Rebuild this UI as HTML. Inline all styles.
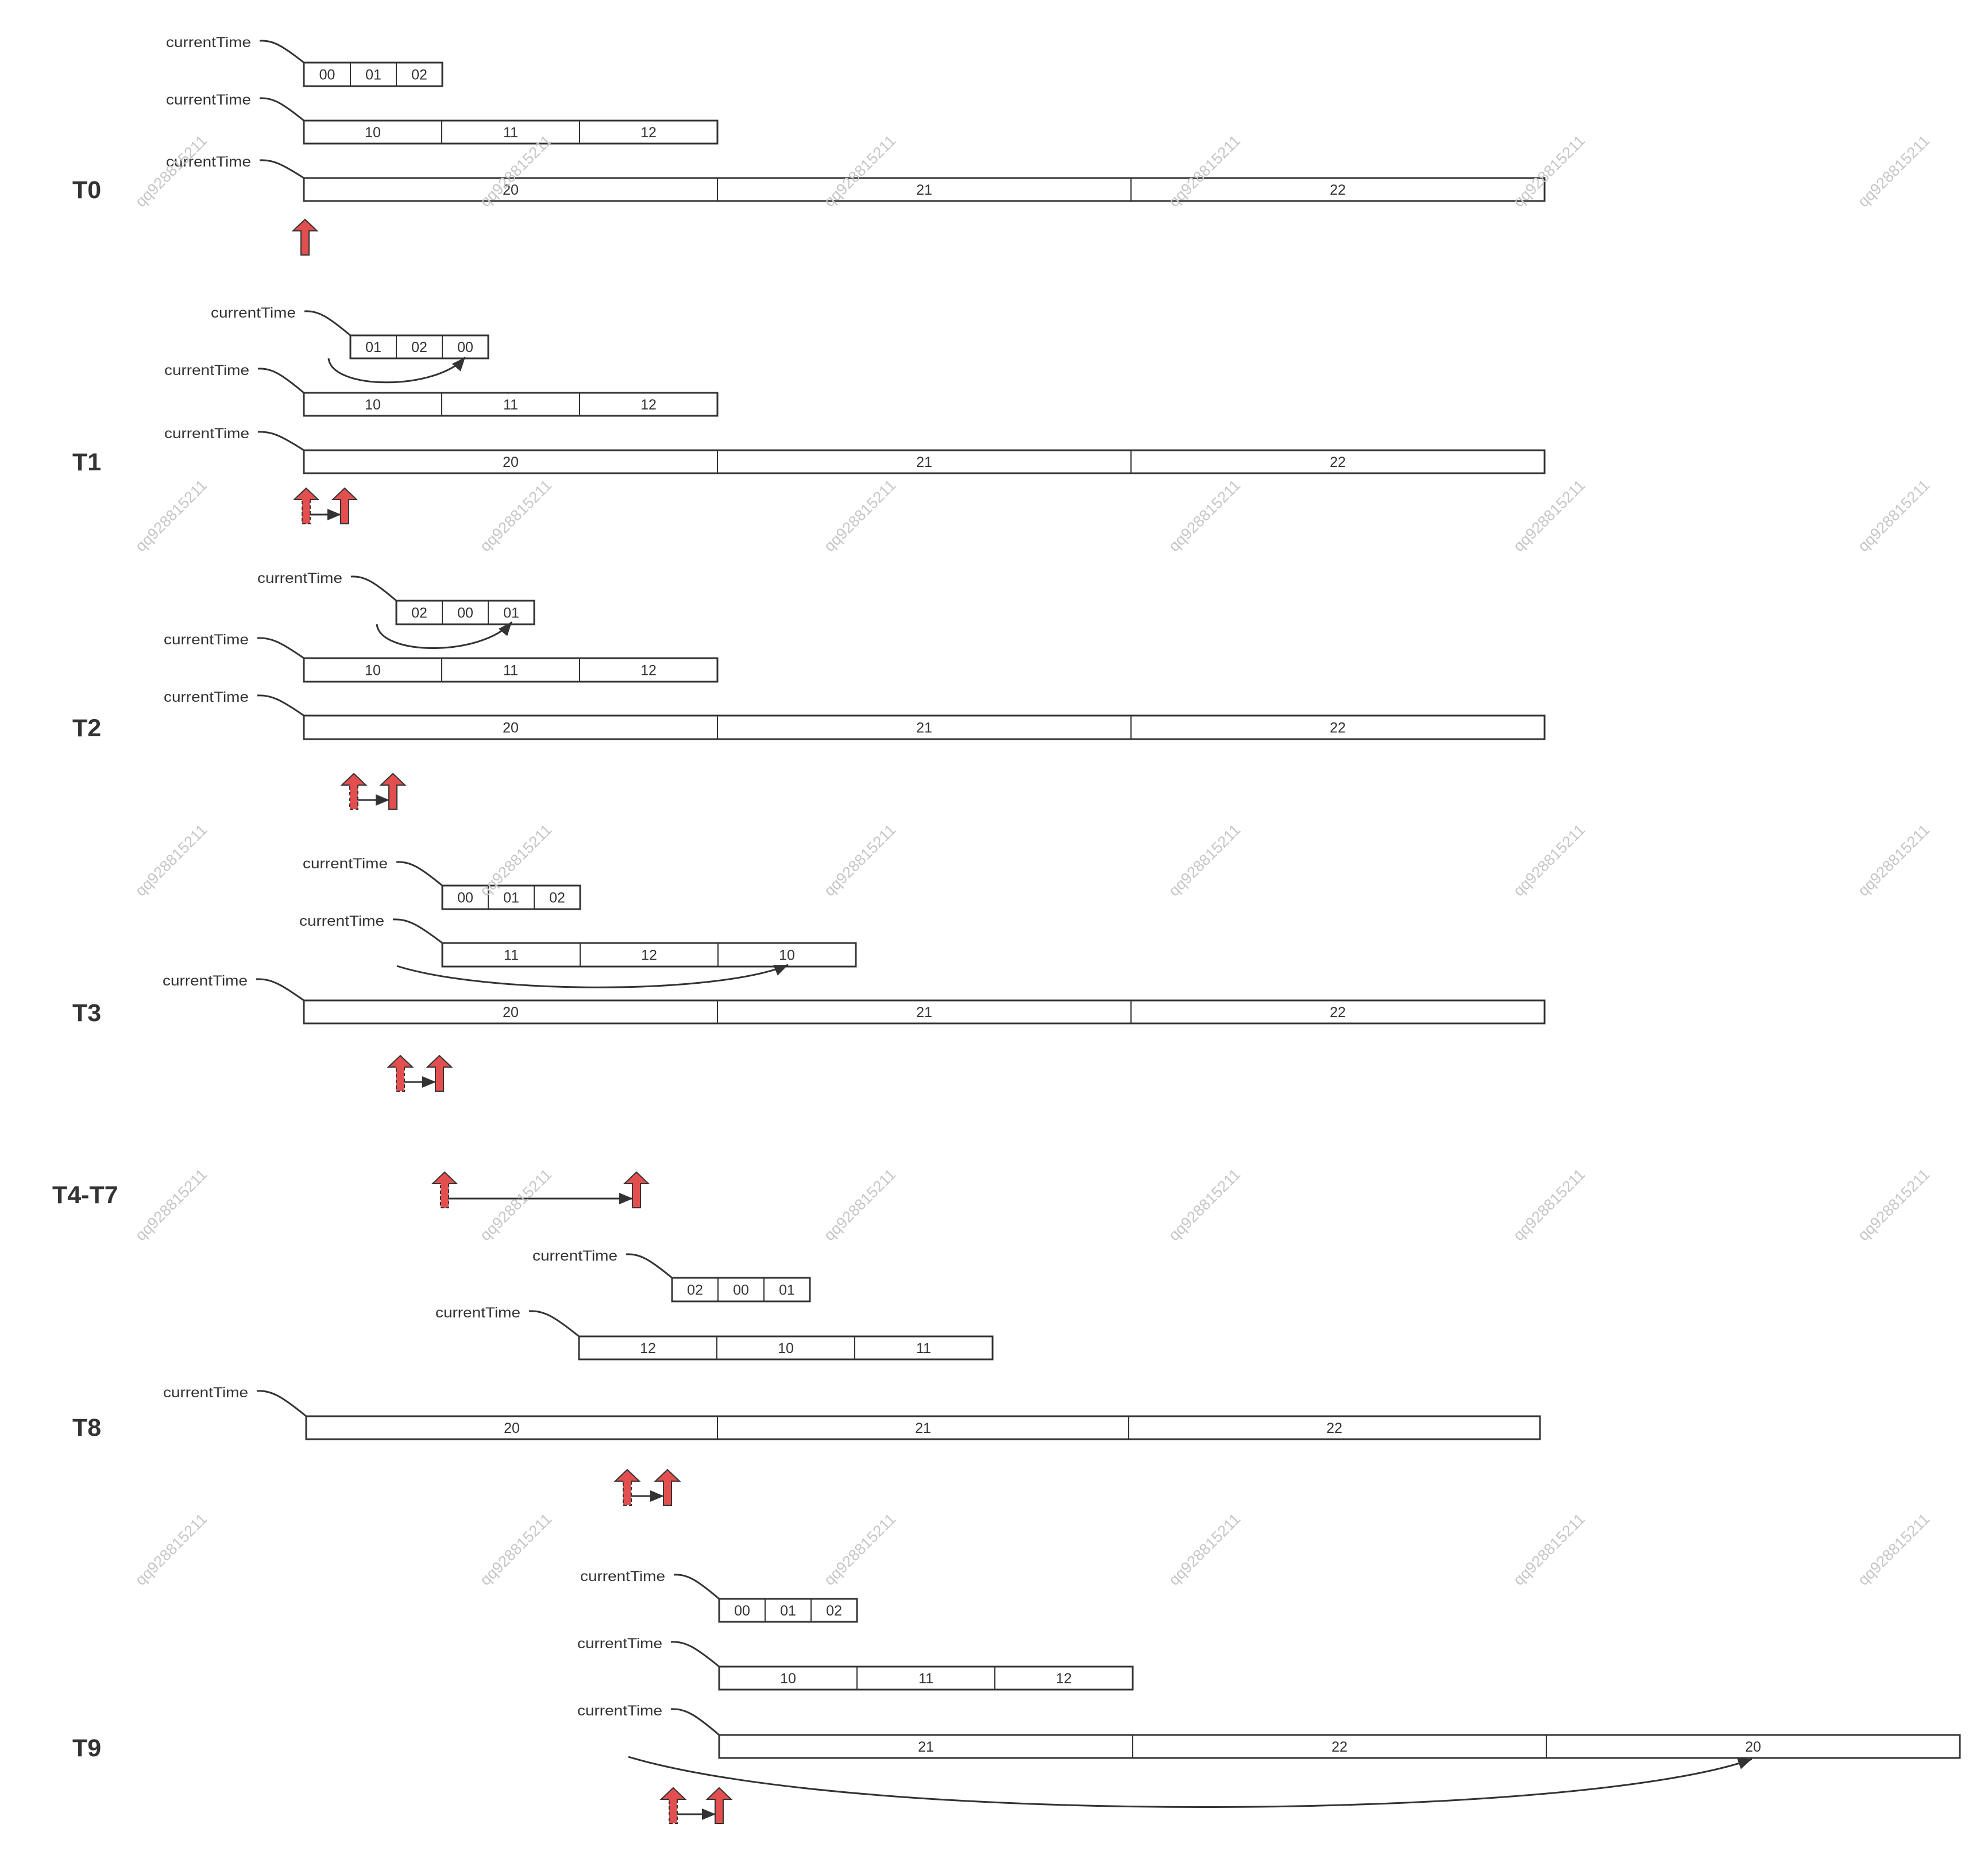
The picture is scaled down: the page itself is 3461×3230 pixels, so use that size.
<!DOCTYPE html>
<html>
<head>
<meta charset="utf-8">
<style>
html,body{margin:0;padding:0;background:#fff;}
svg{display:block;}
.lbl{font-family:"Liberation Sans",sans-serif;font-size:25px;fill:#333;}
.cell{font-family:"Liberation Sans",sans-serif;font-size:25px;fill:#333;text-anchor:middle;}
.tl{font-family:"Liberation Sans",sans-serif;font-size:43px;font-weight:bold;fill:#333;}
.bx{fill:#fff;stroke:#333;stroke-width:3;}
.dv{stroke:#333;stroke-width:2;}
.cv{fill:none;stroke:#333;stroke-width:3;}
.ra{fill:#e34f4f;stroke:#333;stroke-width:2;}
.rf{fill:#e34f4f;}
.hs{fill:none;stroke:#333;stroke-width:2;}
.ds{fill:none;stroke:#333;stroke-width:2;stroke-dasharray:6 4;}
.wm{font-family:"Liberation Sans",sans-serif;font-size:27px;fill:#c6c6c6;text-anchor:middle;}
</style>
</head>
<body>
<svg width="3461" height="3230" viewBox="0 0 3461 3230" xmlns="http://www.w3.org/2000/svg">
<defs>
<marker id="ah" markerUnits="userSpaceOnUse" markerWidth="26" markerHeight="20" refX="24" refY="10" orient="auto">
<path d="M0,0 L24,10 L0,20 z" fill="#333"/>
</marker>
</defs>
<rect width="3461" height="3230" fill="#fff"/>

<!-- ===== T0 ===== -->
<text class="tl" x="126" y="345">T0</text>
<text class="lbl" x="289" y="82" textLength="148" lengthAdjust="spacingAndGlyphs">currentTime</text>
<text class="lbl" x="289" y="182" textLength="148" lengthAdjust="spacingAndGlyphs">currentTime</text>
<text class="lbl" x="289" y="290" textLength="148" lengthAdjust="spacingAndGlyphs">currentTime</text>
<path class="cv" d="M452,71 C475,70 490.5,78.6 529,109"/>
<path class="cv" d="M452,171 C475,170 490.5,178.8 529,210"/>
<path class="cv" d="M452,279 C475,278 490.5,285.2 529,310"/>
<rect class="bx" x="529" y="109" width="241" height="41"/>
<line class="dv" x1="610" y1="109" x2="610" y2="150"/><line class="dv" x1="690" y1="109" x2="690" y2="150"/>
<text class="cell" x="569.5" y="138.5">00</text><text class="cell" x="650" y="138.5">01</text><text class="cell" x="730" y="138.5">02</text>
<rect class="bx" x="529" y="210" width="720" height="40"/>
<line class="dv" x1="769" y1="210" x2="769" y2="250"/><line class="dv" x1="1009" y1="210" x2="1009" y2="250"/>
<text class="cell" x="649" y="239">10</text><text class="cell" x="889" y="239">11</text><text class="cell" x="1129" y="239">12</text>
<rect class="bx" x="529" y="310" width="2160" height="40"/>
<line class="dv" x1="1249" y1="310" x2="1249" y2="350"/><line class="dv" x1="1969" y1="310" x2="1969" y2="350"/>
<text class="cell" x="889" y="339">20</text><text class="cell" x="1609" y="339">21</text><text class="cell" x="2329" y="339">22</text>
<path class="ra" d="M531,382 L552,402 L538,402 L538,444 L524,444 L524,402 L510,402 Z"/>

<!-- ===== T1 ===== -->
<text class="tl" x="126" y="819">T1</text>
<text class="lbl" x="367" y="553" textLength="148" lengthAdjust="spacingAndGlyphs">currentTime</text>
<text class="lbl" x="286" y="653" textLength="148" lengthAdjust="spacingAndGlyphs">currentTime</text>
<text class="lbl" x="286" y="763" textLength="148" lengthAdjust="spacingAndGlyphs">currentTime</text>
<path class="cv" d="M530,542 C554,541 570,550.4 610,584"/>
<path class="cv" d="M449,642 C473,641 489,650.4 529,684"/>
<path class="cv" d="M449,752 C473,751 489,758.4 529,784"/>
<rect class="bx" x="610" y="584" width="240" height="40"/>
<line class="dv" x1="690" y1="584" x2="690" y2="624"/><line class="dv" x1="770" y1="584" x2="770" y2="624"/>
<text class="cell" x="650" y="613">01</text><text class="cell" x="730" y="613">02</text><text class="cell" x="810" y="613">00</text>
<path class="cv" d="M572,624 C578,680 760,680 810,622" marker-end="url(#ah)"/>
<rect class="bx" x="529" y="684" width="720" height="40"/>
<line class="dv" x1="769" y1="684" x2="769" y2="724"/><line class="dv" x1="1009" y1="684" x2="1009" y2="724"/>
<text class="cell" x="649" y="713">10</text><text class="cell" x="889" y="713">11</text><text class="cell" x="1129" y="713">12</text>
<rect class="bx" x="529" y="784" width="2160" height="40"/>
<line class="dv" x1="1249" y1="784" x2="1249" y2="824"/><line class="dv" x1="1969" y1="784" x2="1969" y2="824"/>
<text class="cell" x="889" y="813">20</text><text class="cell" x="1609" y="813">21</text><text class="cell" x="2329" y="813">22</text>
<path class="rf" d="M533,850 L554,870 L540,870 L540,912 L526,912 L526,870 L512,870 Z"/>
<path class="hs" d="M526,870 L512,870 L533,850 L554,870 L540,870"/>
<path class="ds" d="M540,870 L540,912 L526,912 L526,870"/>
<path class="ra" d="M600,850 L621,870 L607,870 L607,912 L593,912 L593,870 L579,870 Z"/>
<path class="cv" d="M540,896 L594,896" marker-end="url(#ah)"/>

<!-- ===== T2 ===== -->
<text class="tl" x="126" y="1282">T2</text>
<text class="lbl" x="448" y="1015" textLength="148" lengthAdjust="spacingAndGlyphs">currentTime</text>
<text class="lbl" x="285" y="1122" textLength="148" lengthAdjust="spacingAndGlyphs">currentTime</text>
<text class="lbl" x="285" y="1222" textLength="148" lengthAdjust="spacingAndGlyphs">currentTime</text>
<path class="cv" d="M611,1004 C634.7,1003 650.5,1012.4 690,1046"/>
<path class="cv" d="M448,1111 C472.3,1110 488.5,1118 529,1146"/>
<path class="cv" d="M448,1211 C472.3,1210 488.5,1218 529,1246"/>
<rect class="bx" x="690" y="1046" width="240" height="41"/>
<line class="dv" x1="770" y1="1046" x2="770" y2="1087"/><line class="dv" x1="850" y1="1046" x2="850" y2="1087"/>
<text class="cell" x="730" y="1075.5">02</text><text class="cell" x="810" y="1075.5">00</text><text class="cell" x="890" y="1075.5">01</text>
<path class="cv" d="M656,1087 C662,1143 840,1143 891,1083" marker-end="url(#ah)"/>
<rect class="bx" x="529" y="1146" width="720" height="41"/>
<line class="dv" x1="769" y1="1146" x2="769" y2="1187"/><line class="dv" x1="1009" y1="1146" x2="1009" y2="1187"/>
<text class="cell" x="649" y="1175.5">10</text><text class="cell" x="889" y="1175.5">11</text><text class="cell" x="1129" y="1175.5">12</text>
<rect class="bx" x="529" y="1246" width="2160" height="41"/>
<line class="dv" x1="1249" y1="1246" x2="1249" y2="1287"/><line class="dv" x1="1969" y1="1246" x2="1969" y2="1287"/>
<text class="cell" x="889" y="1275.5">20</text><text class="cell" x="1609" y="1275.5">21</text><text class="cell" x="2329" y="1275.5">22</text>
<path class="rf" d="M616,1347 L637,1367 L623,1367 L623,1409 L609,1409 L609,1367 L595,1367 Z"/>
<path class="hs" d="M609,1367 L595,1367 L616,1347 L637,1367 L623,1367"/>
<path class="ds" d="M623,1367 L623,1409 L609,1409 L609,1367"/>
<path class="ra" d="M684,1347 L705,1367 L691,1367 L691,1409 L677,1409 L677,1367 L663,1367 Z"/>
<path class="cv" d="M623,1393 L678,1393" marker-end="url(#ah)"/>

<!-- ===== T3 ===== -->
<text class="tl" x="126" y="1778">T3</text>
<text class="lbl" x="527" y="1512" textLength="148" lengthAdjust="spacingAndGlyphs">currentTime</text>
<text class="lbl" x="521" y="1612" textLength="148" lengthAdjust="spacingAndGlyphs">currentTime</text>
<text class="lbl" x="283" y="1716" textLength="148" lengthAdjust="spacingAndGlyphs">currentTime</text>
<path class="cv" d="M690,1501 C714,1500 730,1509.2 770,1542"/>
<path class="cv" d="M684,1601 C709.8,1600 727,1609.2 770,1642"/>
<path class="cv" d="M446,1705 C470.9,1704 487.5,1712.4 529,1742"/>
<rect class="bx" x="770" y="1542" width="240" height="41"/>
<line class="dv" x1="850" y1="1542" x2="850" y2="1583"/><line class="dv" x1="930" y1="1542" x2="930" y2="1583"/>
<text class="cell" x="810" y="1571.5">00</text><text class="cell" x="890" y="1571.5">01</text><text class="cell" x="970" y="1571.5">02</text>
<rect class="bx" x="770" y="1642" width="720" height="41"/>
<line class="dv" x1="1010" y1="1642" x2="1010" y2="1683"/><line class="dv" x1="1250" y1="1642" x2="1250" y2="1683"/>
<text class="cell" x="890" y="1671.5">11</text><text class="cell" x="1130" y="1671.5">12</text><text class="cell" x="1370" y="1671.5">10</text>
<path class="cv" d="M691,1682 C850,1732 1250,1732 1372,1680" marker-end="url(#ah)"/>
<rect class="bx" x="529" y="1742" width="2160" height="40"/>
<line class="dv" x1="1249" y1="1742" x2="1249" y2="1782"/><line class="dv" x1="1969" y1="1742" x2="1969" y2="1782"/>
<text class="cell" x="889" y="1771">20</text><text class="cell" x="1609" y="1771">21</text><text class="cell" x="2329" y="1771">22</text>
<path class="rf" d="M697,1838 L718,1858 L704,1858 L704,1900 L690,1900 L690,1858 L676,1858 Z"/>
<path class="hs" d="M690,1858 L676,1858 L697,1838 L718,1858 L704,1858"/>
<path class="ds" d="M704,1858 L704,1900 L690,1900 L690,1858"/>
<path class="ra" d="M765,1838 L786,1858 L772,1858 L772,1900 L758,1900 L758,1858 L744,1858 Z"/>
<path class="cv" d="M704,1884 L759,1884" marker-end="url(#ah)"/>

<!-- ===== T4-T7 ===== -->
<text class="tl" x="91" y="2095">T4-T7</text>
<path class="rf" d="M774,2041 L795,2061 L781,2061 L781,2103 L767,2103 L767,2061 L753,2061 Z"/>
<path class="hs" d="M767,2061 L753,2061 L774,2041 L795,2061 L781,2061"/>
<path class="ds" d="M781,2061 L781,2103 L767,2103 L767,2061"/>
<path class="ra" d="M1108,2041 L1129,2061 L1115,2061 L1115,2103 L1101,2103 L1101,2061 L1087,2061 Z"/>
<path class="cv" d="M781,2087 L1102,2087" marker-end="url(#ah)"/>

<!-- ===== T8 ===== -->
<text class="tl" x="126" y="2500">T8</text>
<text class="lbl" x="927" y="2195" textLength="148" lengthAdjust="spacingAndGlyphs">currentTime</text>
<text class="lbl" x="758" y="2294" textLength="148" lengthAdjust="spacingAndGlyphs">currentTime</text>
<text class="lbl" x="284" y="2433" textLength="148" lengthAdjust="spacingAndGlyphs">currentTime</text>
<path class="cv" d="M1090,2184 C1114,2183 1130,2192.2 1170,2225"/>
<path class="cv" d="M921,2283 C947.1,2282 964.5,2291.8 1008,2327"/>
<path class="cv" d="M447,2422 C472.8,2421 490,2430.8 533,2466"/>
<rect class="bx" x="1170" y="2225" width="240" height="41"/>
<line class="dv" x1="1250" y1="2225" x2="1250" y2="2266"/><line class="dv" x1="1330" y1="2225" x2="1330" y2="2266"/>
<text class="cell" x="1210" y="2254.5">02</text><text class="cell" x="1290" y="2254.5">00</text><text class="cell" x="1370" y="2254.5">01</text>
<rect class="bx" x="1008" y="2327" width="720" height="40"/>
<line class="dv" x1="1248" y1="2327" x2="1248" y2="2367"/><line class="dv" x1="1488" y1="2327" x2="1488" y2="2367"/>
<text class="cell" x="1128" y="2356">12</text><text class="cell" x="1368" y="2356">10</text><text class="cell" x="1608" y="2356">11</text>
<rect class="bx" x="533" y="2466" width="2148" height="40"/>
<line class="dv" x1="1249" y1="2466" x2="1249" y2="2506"/><line class="dv" x1="1965" y1="2466" x2="1965" y2="2506"/>
<text class="cell" x="891" y="2495">20</text><text class="cell" x="1607" y="2495">21</text><text class="cell" x="2323" y="2495">22</text>
<path class="rf" d="M1092,2559 L1113,2579 L1099,2579 L1099,2621 L1085,2621 L1085,2579 L1071,2579 Z"/>
<path class="hs" d="M1085,2579 L1071,2579 L1092,2559 L1113,2579 L1099,2579"/>
<path class="ds" d="M1099,2579 L1099,2621 L1085,2621 L1085,2579"/>
<path class="ra" d="M1162,2559 L1183,2579 L1169,2579 L1169,2621 L1155,2621 L1155,2579 L1141,2579 Z"/>
<path class="cv" d="M1099,2605 L1156,2605" marker-end="url(#ah)"/>

<!-- ===== T9 ===== -->
<text class="tl" x="126" y="3058">T9</text>
<text class="lbl" x="1010" y="2753" textLength="148" lengthAdjust="spacingAndGlyphs">currentTime</text>
<text class="lbl" x="1005" y="2870" textLength="148" lengthAdjust="spacingAndGlyphs">currentTime</text>
<text class="lbl" x="1005" y="2987" textLength="148" lengthAdjust="spacingAndGlyphs">currentTime</text>
<path class="cv" d="M1173,2742 C1196.7,2741 1212.5,2750.4 1252,2784"/>
<path class="cv" d="M1168,2859 C1193.2,2858 1210,2867.6 1252,2902"/>
<path class="cv" d="M1168,2976 C1193.2,2975 1210,2985 1252,3021"/>
<rect class="bx" x="1252" y="2784" width="240" height="40"/>
<line class="dv" x1="1332" y1="2784" x2="1332" y2="2824"/><line class="dv" x1="1412" y1="2784" x2="1412" y2="2824"/>
<text class="cell" x="1292" y="2813">00</text><text class="cell" x="1372" y="2813">01</text><text class="cell" x="1452" y="2813">02</text>
<rect class="bx" x="1252" y="2902" width="720" height="40"/>
<line class="dv" x1="1492" y1="2902" x2="1492" y2="2942"/><line class="dv" x1="1732" y1="2902" x2="1732" y2="2942"/>
<text class="cell" x="1372" y="2931">10</text><text class="cell" x="1612" y="2931">11</text><text class="cell" x="1852" y="2931">12</text>
<rect class="bx" x="1252" y="3021" width="2160" height="40"/>
<line class="dv" x1="1972" y1="3021" x2="1972" y2="3061"/><line class="dv" x1="2692" y1="3021" x2="2692" y2="3061"/>
<text class="cell" x="1612" y="3050">21</text><text class="cell" x="2332" y="3050">22</text><text class="cell" x="3052" y="3050">20</text>
<path class="cv" d="M1094,3059 C1500,3180 2750,3170 3050,3063" marker-end="url(#ah)"/>
<path class="rf" d="M1172,3113 L1193,3133 L1179,3133 L1179,3175 L1165,3175 L1165,3133 L1151,3133 Z"/>
<path class="hs" d="M1165,3133 L1151,3133 L1172,3113 L1193,3133 L1179,3133"/>
<path class="ds" d="M1179,3133 L1179,3175 L1165,3175 L1165,3133"/>
<path class="ra" d="M1252,3113 L1273,3133 L1259,3133 L1259,3175 L1245,3175 L1245,3133 L1231,3133 Z"/>
<path class="cv" d="M1179,3159 L1246,3159" marker-end="url(#ah)"/>

<!-- ===== Watermarks ===== -->
<g class="wm">
<text x="298" y="307" transform="rotate(-45 298 298)">qq928815211</text>
<text x="898" y="307" transform="rotate(-45 898 298)">qq928815211</text>
<text x="1497" y="307" transform="rotate(-45 1497 298)">qq928815211</text>
<text x="2097" y="307" transform="rotate(-45 2097 298)">qq928815211</text>
<text x="2697" y="307" transform="rotate(-45 2697 298)">qq928815211</text>
<text x="3297" y="307" transform="rotate(-45 3297 298)">qq928815211</text>

<text x="298" y="907" transform="rotate(-45 298 898)">qq928815211</text>
<text x="898" y="907" transform="rotate(-45 898 898)">qq928815211</text>
<text x="1497" y="907" transform="rotate(-45 1497 898)">qq928815211</text>
<text x="2097" y="907" transform="rotate(-45 2097 898)">qq928815211</text>
<text x="2697" y="907" transform="rotate(-45 2697 898)">qq928815211</text>
<text x="3297" y="907" transform="rotate(-45 3297 898)">qq928815211</text>

<text x="298" y="1507" transform="rotate(-45 298 1498)">qq928815211</text>
<text x="898" y="1507" transform="rotate(-45 898 1498)">qq928815211</text>
<text x="1497" y="1507" transform="rotate(-45 1497 1498)">qq928815211</text>
<text x="2097" y="1507" transform="rotate(-45 2097 1498)">qq928815211</text>
<text x="2697" y="1507" transform="rotate(-45 2697 1498)">qq928815211</text>
<text x="3297" y="1507" transform="rotate(-45 3297 1498)">qq928815211</text>

<text x="298" y="2107" transform="rotate(-45 298 2098)">qq928815211</text>
<text x="898" y="2107" transform="rotate(-45 898 2098)">qq928815211</text>
<text x="1497" y="2107" transform="rotate(-45 1497 2098)">qq928815211</text>
<text x="2097" y="2107" transform="rotate(-45 2097 2098)">qq928815211</text>
<text x="2697" y="2107" transform="rotate(-45 2697 2098)">qq928815211</text>
<text x="3297" y="2107" transform="rotate(-45 3297 2098)">qq928815211</text>

<text x="298" y="2707" transform="rotate(-45 298 2698)">qq928815211</text>
<text x="898" y="2707" transform="rotate(-45 898 2698)">qq928815211</text>
<text x="1497" y="2707" transform="rotate(-45 1497 2698)">qq928815211</text>
<text x="2097" y="2707" transform="rotate(-45 2097 2698)">qq928815211</text>
<text x="2697" y="2707" transform="rotate(-45 2697 2698)">qq928815211</text>
<text x="3297" y="2707" transform="rotate(-45 3297 2698)">qq928815211</text>
</g>
</svg>
</body>
</html>
